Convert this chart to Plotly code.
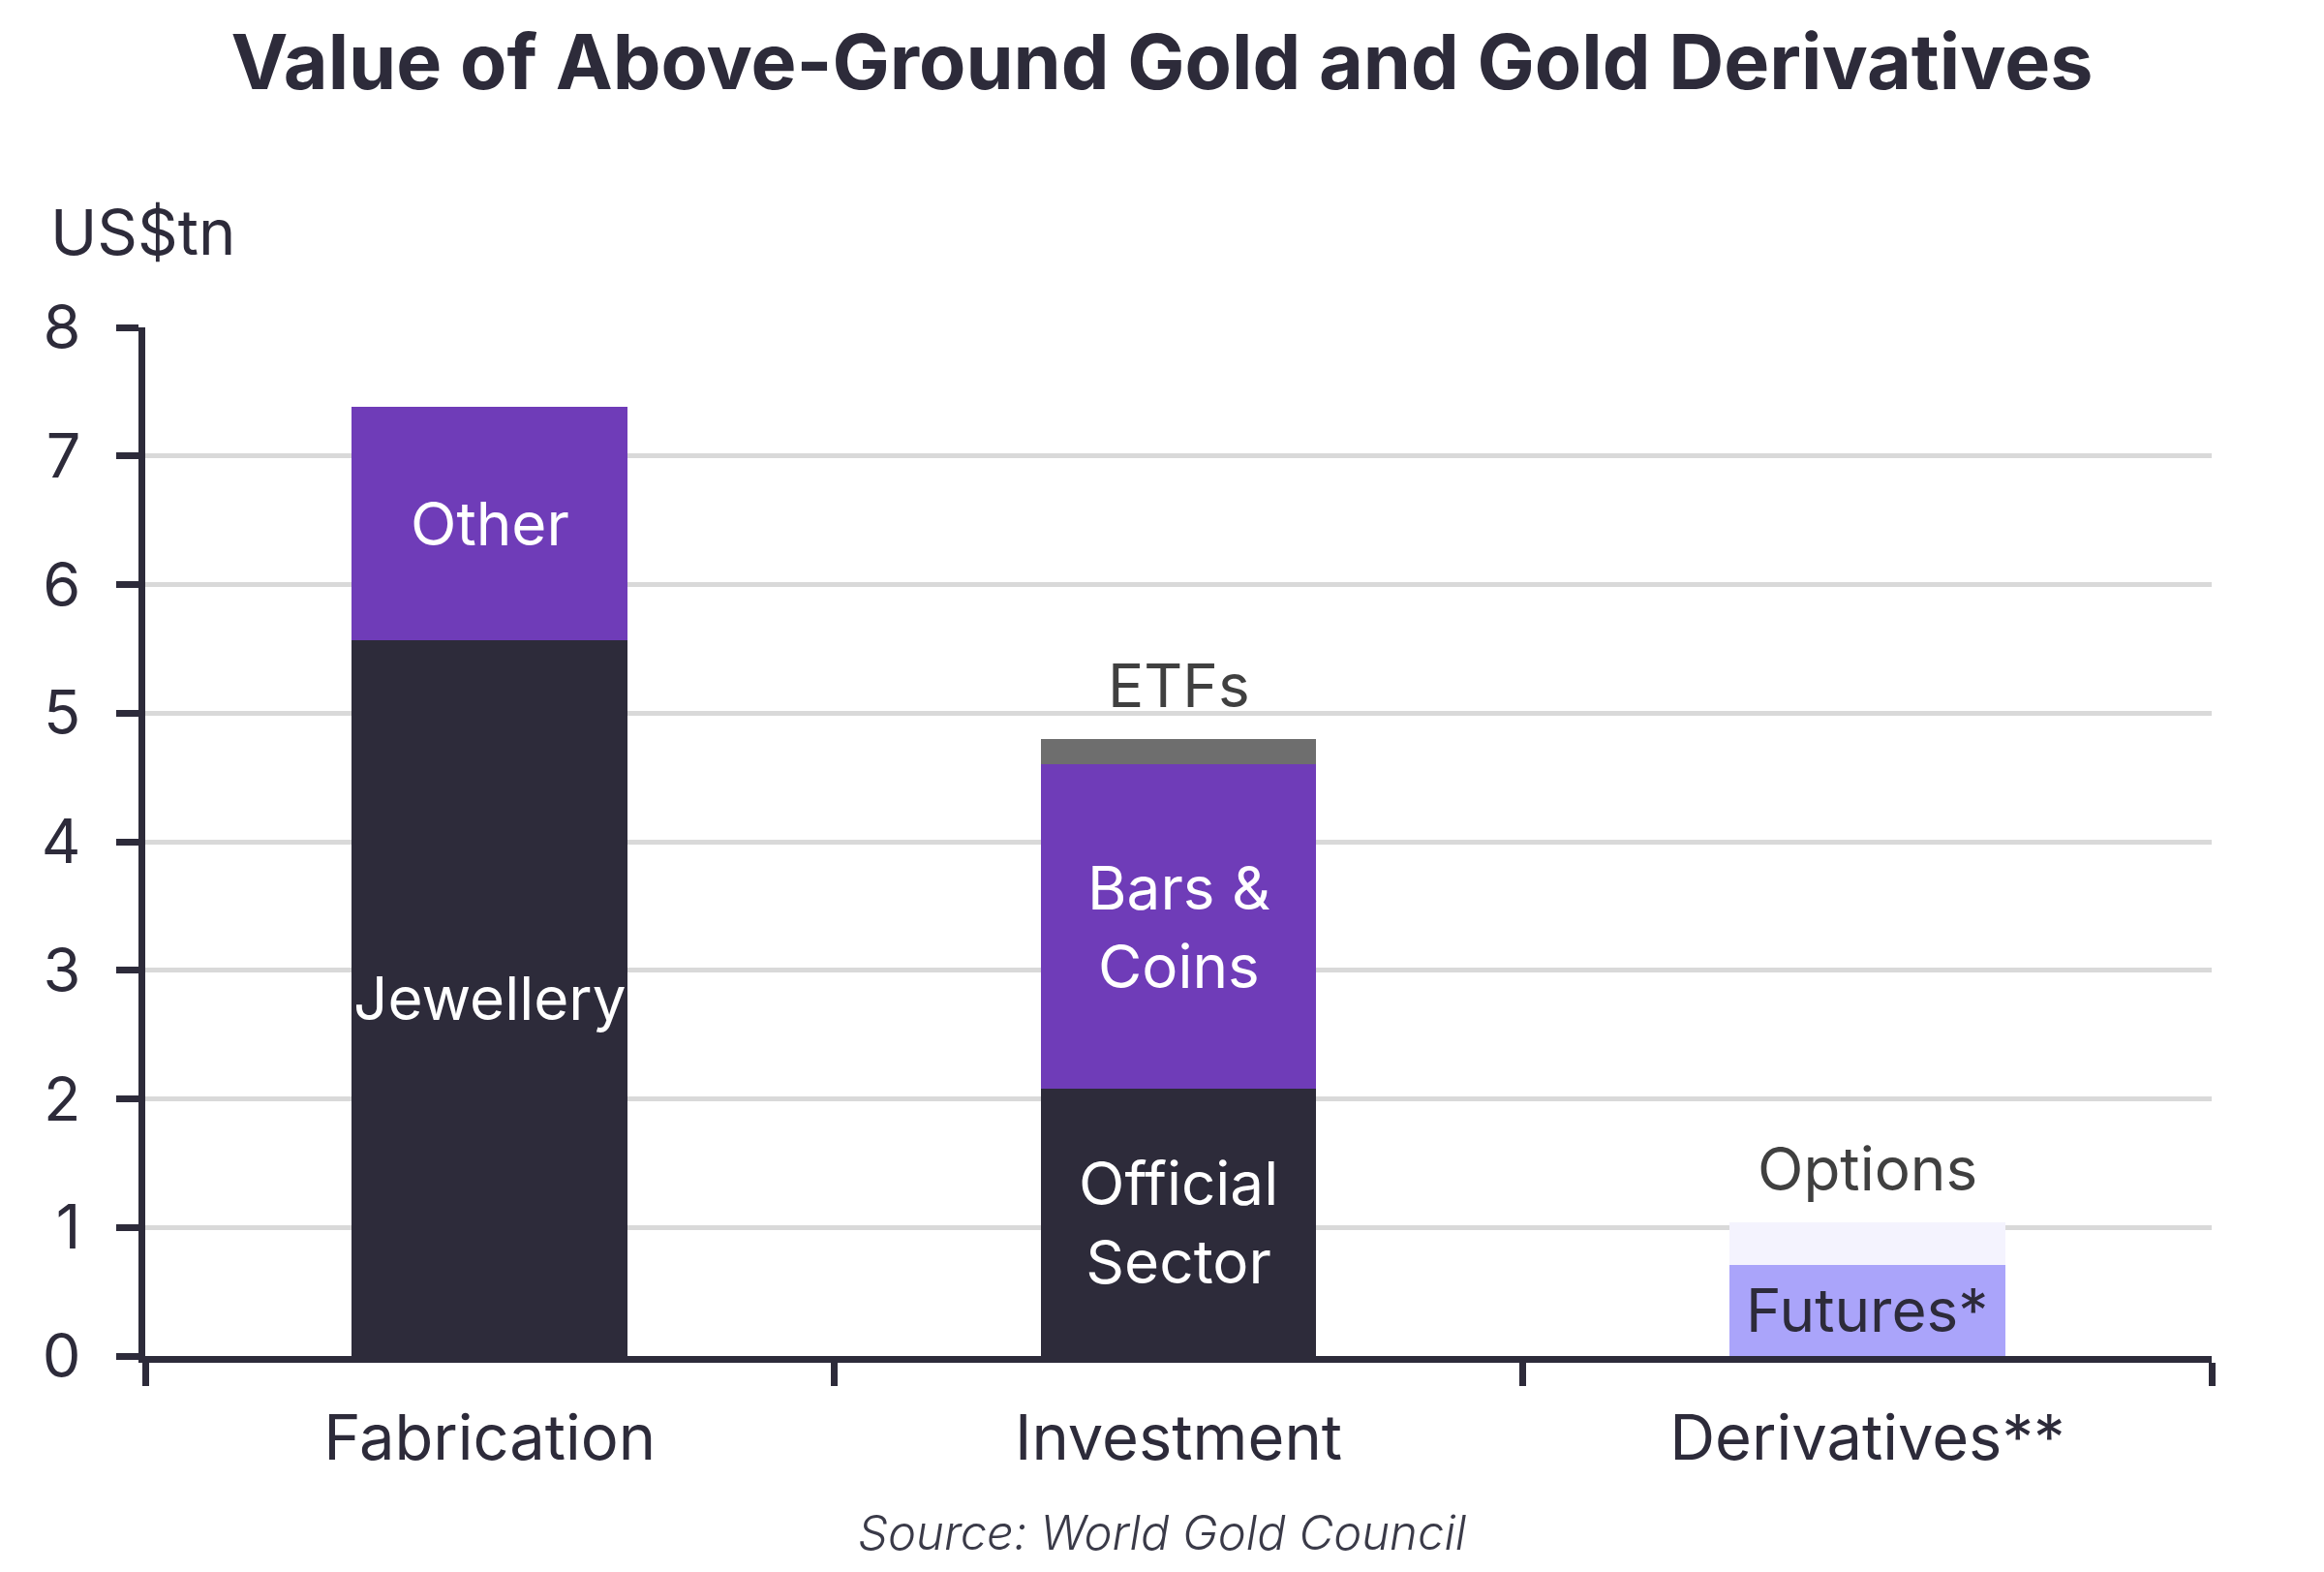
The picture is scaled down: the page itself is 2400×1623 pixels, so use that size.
import plotly.graph_objects as go

# ---- data ----
categories = ["Fabrication", "Investment", "Derivatives**"]
segment_names = ["Jewellery", "Other", "Official<br>Sector", "Bars &<br>Coins", "ETFs", "Futures*", "Options"]
segment_category = ["Fabrication", "Fabrication", "Investment", "Investment", "Investment", "Derivatives**", "Derivatives**"]
segment_values = [5.57, 1.81, 2.08, 2.52, 0.20, 0.71, 0.33]
segment_colors = ["#2d2b3a", "#6f3cb8", "#2d2b3a", "#6f3cb8", "#6e6e6e", "#aaa4fa", "#f4f3fe"]
label_colors = ["#ffffff", "#ffffff", "#ffffff", "#ffffff", "#404040", "#2d2b3a", "#404040"]
label_outside = [False, False, False, False, True, False, True]
y_ticks = [0, 1, 2, 3, 4, 5, 6, 7, 8]

TEXT = "#2d2b3a"
FONT = "Inter"

# page body has an 8px margin; the figure is drawn inside it
W, H = 2384, 1607
L, T = 142, 330
PW, PH = 2134, 1062
R, B = W - L - PW, H - T - PH

fig = go.Figure()
bases = {c: 0.0 for c in categories}
annotations = []
for name, cat, val, col, lcol, outside in zip(segment_names, segment_category, segment_values,
                                              segment_colors, label_colors, label_outside):
    base = bases[cat]
    fig.add_trace(go.Bar(
        x=[cat], y=[val], name=name, marker=dict(color=col, line=dict(width=0)),
        width=0.4, showlegend=False, hoverinfo="skip",
    ))
    if outside:
        annotations.append(dict(x=cat, y=base + val, xref="x", yref="y", text=name,
                                showarrow=False, yanchor="middle", yshift=55,
                                font=dict(family=FONT, size=62, color=lcol)))
    else:
        annotations.append(dict(x=cat, y=base + val / 2, xref="x", yref="y", text=name,
                                showarrow=False, yanchor="middle",
                                font=dict(family=FONT, size=62, color=lcol)))
    bases[cat] = base + val

annotations.append(dict(text="US$tn", xref="paper", yref="paper", x=(50 - 150) / PW, y=(1400 - 240) / PH,
                        xanchor="left", yanchor="middle", showarrow=False,
                        font=dict(family=FONT, size=65, color=TEXT)))
annotations.append(dict(text="<i>Source: World Gold Council</i>", xref="paper", yref="paper",
                        x=(1200 - 150) / PW, y=(1400 - 1582) / PH, borderpad=0,
                        xanchor="center", yanchor="middle", showarrow=False,
                        font=dict(family=FONT, size=49, color="#3a3a48", weight=300)))

fig.update_layout(
    barmode="stack",
    width=W, height=H,
    margin=dict(l=L, r=R, t=T, b=B),
    paper_bgcolor="white", plot_bgcolor="white",
    title=dict(text="<b>Value of Above-Ground Gold and Gold Derivatives</b>",
               x=(1200 - 8) / W, xanchor="center", y=1 - 56 / H, yanchor="middle", yref="container",
               font=dict(family=FONT, size=79, color=TEXT)),
    annotations=annotations,
    font=dict(family=FONT, color=TEXT),
)
fig.update_xaxes(
    type="category", categoryorder="array", categoryarray=categories,
    range=[-0.5, 2.5], showgrid=False, tickson="boundaries",
    ticks="outside", ticklen=24, tickwidth=7, tickcolor=TEXT,
    showline=True, linewidth=7, linecolor=TEXT,
    tickfont=dict(family=FONT, size=65, color=TEXT), ticklabelstandoff=22,
)
fig.update_yaxes(
    range=[0, 8], tickvals=y_ticks, showgrid=True, gridcolor="#d9d9d9", gridwidth=5,
    ticks="outside", ticklen=23, tickwidth=7, tickcolor=TEXT,
    showline=True, linewidth=7, linecolor=TEXT, zeroline=False,
    tickfont=dict(family=FONT, size=63, color=TEXT), ticklabelstandoff=24,
)

fig.write_html("out.html")
